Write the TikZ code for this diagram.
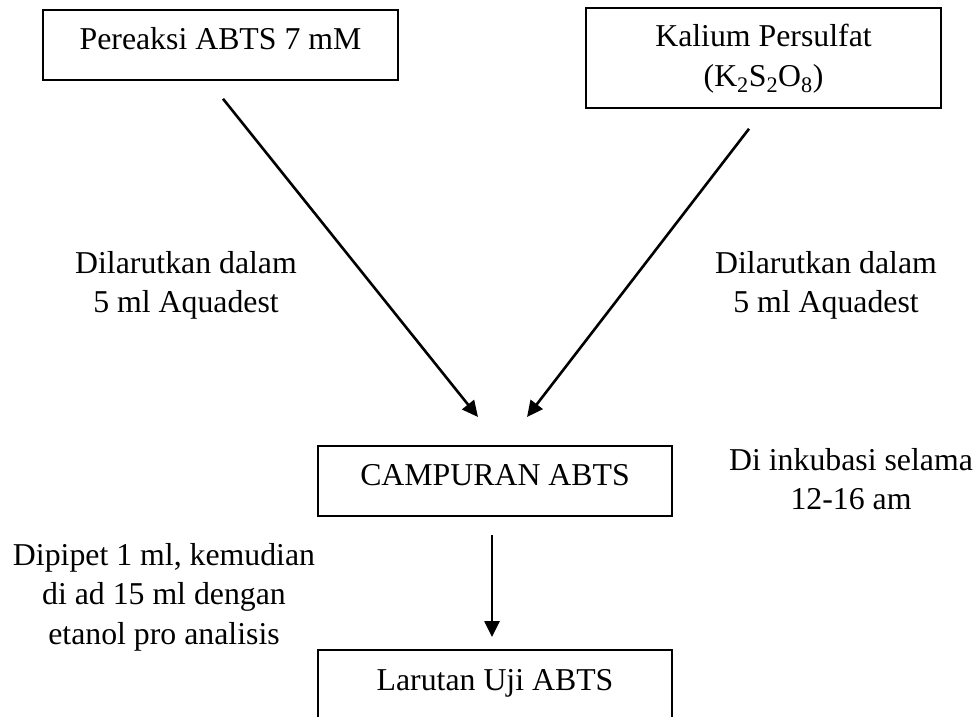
\documentclass[tikz,border=0pt]{standalone}
\usepackage{fontspec}
\setmainfont{Liberation Serif}
\usetikzlibrary{arrows.meta}
\newcommand{\twolines}[1]{\begin{tabular}[t]{@{}c@{}}#1\end{tabular}}
\begin{document}
\begin{tikzpicture}[x=1pt,y=-1pt,
  every node/.style={font=\fontsize{31.8}{39.5}\selectfont},
  box/.style={draw, line width=1.8pt, minimum width=355pt, inner xsep=0pt, inner ysep=0pt,
    text height=40pt, text depth=30pt, anchor=north},
  lbl/.style={anchor=base, inner sep=0pt},
  arr/.style={line width=2.6pt, -{Triangle[length=16pt,width=15pt]}}]
\useasboundingbox (0,0) rectangle (980,716);
\clip (0,0) rectangle (980,716);

\node[box] (b1) at (220.5,9) {Pereaksi ABTS 7 mM};
\node[box, text height=39pt, text depth=61pt] (b2) at (763.5,7)
  {\twolines{Kalium Persulfat\\(K\textsubscript{2}S\textsubscript{2}O\textsubscript{8})}};
\node[box, minimum width=354pt] (b3) at (495,445) {CAMPURAN ABTS};
\node[box, minimum width=354pt, text height=41pt, text depth=60pt] (b4) at (495,649) {Larutan Uji ABTS};

\draw[arr] ([xshift=2.5pt,yshift=-18pt]b1.south) -- ([xshift=-17pt,yshift=28pt]b3.north);
\draw[arr] ([xshift=-14.5pt,yshift=-20pt]b2.south) -- ([xshift=32pt,yshift=28pt]b3.north);
\draw[arr] ([xshift=-3pt,yshift=-18pt]b3.south) -- ([xshift=-3pt,yshift=12pt]b4.north);

\node[lbl] (l1) at (186,273) {\twolines{Dilarutkan dalam\\5 ml Aquadest}};
\node[lbl] (l2) at (826,273) {\twolines{Dilarutkan dalam\\5 ml Aquadest}};
\node[lbl] (l3) at (851,470) {\twolines{Di inkubasi selama\\12-16 am}};
\node[lbl] (l4) at (164,565) {\twolines{Dipipet 1 ml, kemudian\\di ad 15 ml dengan\\etanol pro analisis}};
\end{tikzpicture}
\end{document}
